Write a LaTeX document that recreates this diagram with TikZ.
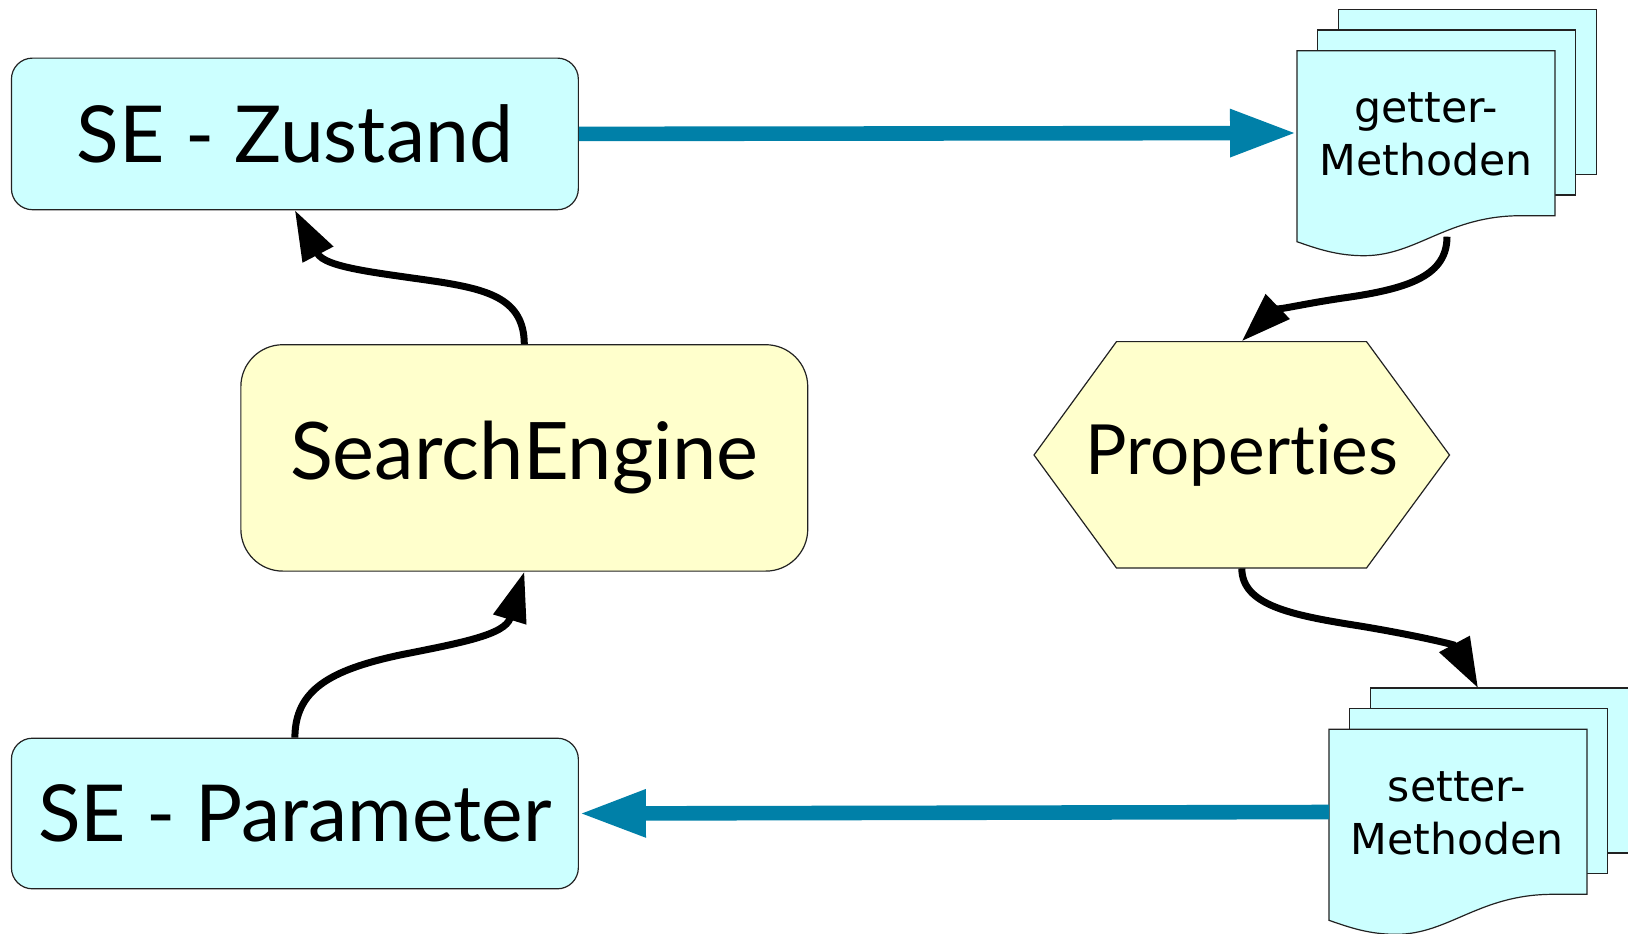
\documentclass[tikz,border=0pt]{standalone}
\usepackage{fontspec}
\setmainfont{Lato}[Ligatures={NoCommon}]
\newfontfamily\docfont{DejaVu Sans}
\usetikzlibrary{arrows.meta}
\definecolor{cyanfill}{HTML}{CCFFFF}
\definecolor{yelfill}{HTML}{FFFFCC}
\definecolor{bluearrow}{HTML}{0080A8}
\definecolor{edge}{HTML}{222222}
\begin{document}
\begin{tikzpicture}[x=0.5pt,y=-0.5pt,
  bigbox/.style={draw=edge,line width=0.6pt,fill=cyanfill,rounded corners=10.5pt,
    minimum width=283.45pt,inner sep=0pt,font=\fontsize{39.3}{44}\selectfont},
  enginebox/.style={draw=edge,line width=0.6pt,fill=yelfill,rounded corners=21pt,
    minimum width=283.45pt,minimum height=113.2pt,inner sep=0pt,font=\fontsize{39.7}{44}\selectfont},
  docpage/.style={draw=edge,line width=0.6pt,fill=cyanfill},
  doctext/.style={minimum width=129pt,minimum height=82.5pt,inner sep=0pt,align=center,
    font=\docfont\fontsize{21.3}{26.5}\selectfont},
  bluearr/.style={draw=bluearrow,line width=7.3pt,-{Triangle[length=33.5pt,width=22pt]}},
  curvearr/.style={draw=black,line width=3.5pt,-{Triangle[length=25pt,width=16.5pt]}}
]
\useasboundingbox (0,0) rectangle (1628,933);
\fill[white] (0,0) rectangle (1628,933);

% boxes
\node[bigbox,minimum height=75.8pt] (zu) at (294.9,133.9) {SE - Zustand};
\node[enginebox] (se) at (524.3,457.9) {\raisebox{-3pt}{SearchEngine}};
\node[bigbox,minimum height=75.3pt] (zp) at (294.9,813.5) {SE - Parameter};

% hexagon
\fill[yelfill,draw=edge,line width=0.6pt] (1034,455) -- (1116.5,341.6) -- (1366.5,341.6) -- (1449.5,455) -- (1366.5,568) -- (1116.5,568) -- cycle;
\node[minimum width=207.75pt,minimum height=113.2pt,inner sep=0pt,font=\fontsize{34.6}{40}\selectfont] (props) at (1241.8,454.8) {Properties};

% getter documents
\begin{scope}[shift={(1297,50.7)}]
  \filldraw[docpage] (41.3,-41.3) rectangle ++(258,165);
  \filldraw[docpage] (20.7,-20.7) rectangle ++(258,165);
  \filldraw[docpage] (0,0) -- (258,0) -- (258,165) -- (224,165) .. controls (150,165) and (120,205) .. (67,205) .. controls (40,205) and (20,198) .. (0,191) -- cycle;
  \node[doctext] (getter) at (129,84) {getter-\\Methoden};
  \coordinate (gW) at (0,82.3);
  \coordinate (gB) at (150,186);
\end{scope}

% setter documents
\begin{scope}[shift={(1329,729.3)}]
  \filldraw[docpage] (41.3,-41.3) rectangle ++(258,165);
  \filldraw[docpage] (20.7,-20.7) rectangle ++(258,165);
  \filldraw[docpage] (0,0) -- (258,0) -- (258,165) -- (224,165) .. controls (150,165) and (120,205) .. (67,205) .. controls (40,205) and (20,198) .. (0,191) -- cycle;
  \node[doctext] (setter) at (128,84) {setter-\\Methoden};
  \coordinate (sW) at (0,82.7);
  \coordinate (sT) at (149,-41.3);
\end{scope}

% blue arrows
\draw[bluearr] (zu.east) -- (gW);
\draw[bluearr] (sW) -- (zp.east);

% curved arrows
\draw[curvearr] (se.north) .. controls (524,300) and (490,290) .. (440,282) .. controls (380,273) and (325,268) .. (zu.south);
\draw[curvearr] (zp.north) .. controls (295,690) and (330,670) .. (400,655) .. controls (460,643) and (505,635) .. (se.south);
\draw[curvearr] (gB) .. controls (1447,275) and (1410,288) .. (1350,297) .. controls (1300,304) and (1272,312) .. (props.north);
\draw[curvearr] (props.south) .. controls (1242,605) and (1290,615) .. (1360,626) .. controls (1420,636) and (1455,645) .. (sT);
\end{tikzpicture}
\end{document}
